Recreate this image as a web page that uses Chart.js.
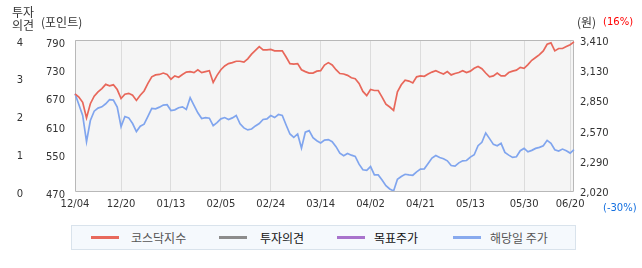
<!DOCTYPE html>
<html><head><meta charset="utf-8">
<script src="https://cdn.jsdelivr.net/npm/chart.js@4.4.1/dist/chart.umd.min.js"></script>
<style>
html,body{margin:0;padding:0;background:#fff;}
#wrap{position:relative;width:642px;height:268px;overflow:hidden;font-family:"Noto Sans CJK KR","DejaVu Sans",sans-serif;color:#333;}
#c{position:absolute;left:0;top:0;}
.t{position:absolute;white-space:nowrap;font-size:12px;line-height:13px;}
.num{font-family:"DejaVu Sans",sans-serif;font-size:10px;}
#legend{position:absolute;left:71px;top:225px;width:503px;height:23px;background:#f5f9fd;border:1px solid #d9e3ec;}
.li{position:absolute;top:0;height:23px;line-height:23px;font-size:12px;white-space:nowrap;}
.sw{position:absolute;width:28px;height:3px;top:10px;}
</style></head>
<body><div id="wrap">
<canvas id="c" width="642" height="268"></canvas>
<div class="t" style="left:12px;top:5px;">투자<br>의견</div>
<div class="t" style="left:41px;top:15px;">(포인트)</div>
<div class="t" style="left:577px;top:15px;">(원)</div>
<div class="t num" style="left:603px;top:15px;color:#f00;">(16%)</div>
<div class="t num" style="left:603px;top:201px;color:#1470e0;">(-30%)</div>
<div id="legend">
  <div class="sw" style="left:19px;background:#e8695c;"></div><div class="li" style="left:59px;color:#555;">코스닥지수</div>
  <div class="sw" style="left:147px;background:#8c8c8c;"></div><div class="li" style="left:188px;color:#111;">투자의견</div>
  <div class="sw" style="left:265px;background:#a873cc;"></div><div class="li" style="left:302px;color:#111;">목표주가</div>
  <div class="sw" style="left:381px;background:#88aaee;"></div><div class="li" style="left:418px;color:#555;">해당일 주가</div>
</div>
</div>
<script>
const tickLabels = ['12/04','12/20','01/13','02/05','02/24','03/14','04/02','04/21','05/13','05/30','06/20'];
const tickIdx = [0,12,25,38,51,64,77,90,103,117,129];
const kosdaq = [676,669,658,625,655,671,680,687,696,693,
695,685,666,675,677,673,662,673,682,698,
712,716,717,720,717,707,714,711,717,722,
723,721,727,721,723,725,700,715,727,735,
740,742,745,745,743,750,760,768,776,769,
769,770,767,767,767,754,740,739,740,727,
723,720,720,724,725,737,742,737,727,719,
718,715,710,708,698,681,672,685,683,683,
669,654,648,641,680,695,705,703,699,712,
714,713,718,722,725,721,718,723,716,719,
721,725,721,724,730,734,729,720,712,714,
720,714,714,721,724,726,732,730,738,747,
753,759,767,781,784,767,772,772,776,780,
786];
const price = [2916,2817,2715,2474,2669,2755,2783,2795,2823,2860,
2857,2792,2613,2706,2693,2641,2567,2616,2635,2706,
2780,2777,2792,2811,2814,2761,2767,2786,2795,2771,
2879,2808,2740,2687,2696,2690,2622,2650,2684,2696,
2678,2693,2715,2638,2601,2582,2591,2619,2641,2678,
2684,2715,2696,2724,2715,2628,2545,2514,2545,2415,
2561,2576,2511,2483,2462,2489,2493,2474,2428,2369,
2344,2366,2350,2338,2267,2215,2211,2245,2168,2168,
2122,2069,2039,2020,2128,2153,2174,2168,2165,2196,
2221,2224,2273,2323,2347,2329,2317,2298,2255,2249,
2279,2298,2301,2332,2354,2437,2468,2554,2502,2449,
2437,2459,2375,2350,2329,2335,2391,2412,2381,2394,
2412,2422,2437,2486,2459,2400,2388,2406,2391,2369,
2400];
const opinion = [];
const target = [];
const leftTicks = [790,730,670,610,550,470];
const rightTicks = [3410,3130,2850,2570,2290,2020];
const opTicks = [4,3,2,1,0];

const categories = kosdaq.map((_, i) => { const k = tickIdx.indexOf(i); return k >= 0 ? tickLabels[k] : ''; });

const tickFont = {family: 'DejaVu Sans', size: 10};
const TXT = '#333';

const boxPlugin = {
  id: 'box',
  beforeDraw(chart) {
    const {ctx, chartArea: a} = chart;
    ctx.save();
    ctx.fillStyle = '#f5f5f5';
    ctx.fillRect(a.left, a.top, a.right - a.left, a.bottom - a.top);
    ctx.restore();
  },
  beforeDatasetsDraw(chart) {
    const {ctx, chartArea: a} = chart;
    ctx.save();
    ctx.strokeStyle = '#b8b8b8';
    ctx.lineWidth = 1;
    ctx.beginPath();
    ctx.moveTo(a.left + 0.5, a.top + 0.5);
    ctx.lineTo(a.right - 0.5, a.top + 0.5);
    ctx.lineTo(a.right - 0.5, a.bottom + 0.5);
    ctx.lineTo(a.left + 0.5, a.bottom + 0.5);
    ctx.closePath();
    ctx.stroke();
    ctx.restore();
  }
};

new Chart(document.getElementById('c'), {
  type: 'line',
  data: {
    labels: categories,
    datasets: [
      {label: '코스닥지수', data: kosdaq, yAxisID: 'yL', borderColor: '#e8675a', borderWidth: 1.7, pointRadius: 0, tension: 0},
      {label: '투자의견', data: opinion, yAxisID: 'yOp', borderColor: '#888888', borderWidth: 1.7, pointRadius: 0},
      {label: '목표주가', data: target, yAxisID: 'yR', borderColor: '#a570c8', borderWidth: 1.7, pointRadius: 0},
      {label: '해당일 주가', data: price, yAxisID: 'yR', borderColor: '#80a5ee', borderWidth: 1.7, pointRadius: 0, tension: 0}
    ]
  },
  options: {
    responsive: false,
    animation: false,
    devicePixelRatio: 1,
    layout: {padding: {top: 40, left: 0, right: 0, bottom: 0}},
    plugins: {legend: {display: false}, tooltip: {enabled: false}},
    scales: {
      x: {
        type: 'category',
        offset: false,
        afterBuildTicks: s => { s.ticks = tickIdx.map(i => ({value: i})); },
        afterFit: s => { s.height = 77; },
        grid: {display: true, color: '#dcdcdc', lineWidth: 1, drawTicks: false},
        border: {display: false},
        ticks: {autoSkip: false, maxRotation: 0, minRotation: 0, padding: 7, font: tickFont, color: TXT,
          callback: function(v) { return this.getLabelForValue(v); }}
      },
      yOp: {
        position: 'left', weight: 2, min: 0, max: 4,
        afterBuildTicks: s => { s.ticks = opTicks.map(v => ({value: v})); },
        afterFit: s => { s.width = 40; },
        grid: {display: false, drawTicks: false},
        border: {display: false},
        ticks: {padding: 17, labelOffset: 3, font: tickFont, color: TXT}
      },
      yL: {
        position: 'left', weight: 1, min: 470, max: 790,
        afterBuildTicks: s => { s.ticks = leftTicks.map(v => ({value: v})); },
        afterFit: s => { s.width = 35; },
        grid: {display: false, drawTicks: false},
        border: {display: false},
        ticks: {padding: 10, labelOffset: 4, font: tickFont, color: TXT}
      },
      yR: {
        position: 'right', min: 2020, max: 3410,
        afterBuildTicks: s => { s.ticks = rightTicks.map(v => ({value: v})); },
        afterFit: s => { s.width = 68; },
        grid: {display: false, drawTicks: false},
        border: {display: false},
        ticks: {padding: 6, labelOffset: 2, font: tickFont, color: TXT,
          callback: v => v.toLocaleString('en-US')}
      }
    }
  },
  plugins: [boxPlugin]
});
</script>
</body></html>
